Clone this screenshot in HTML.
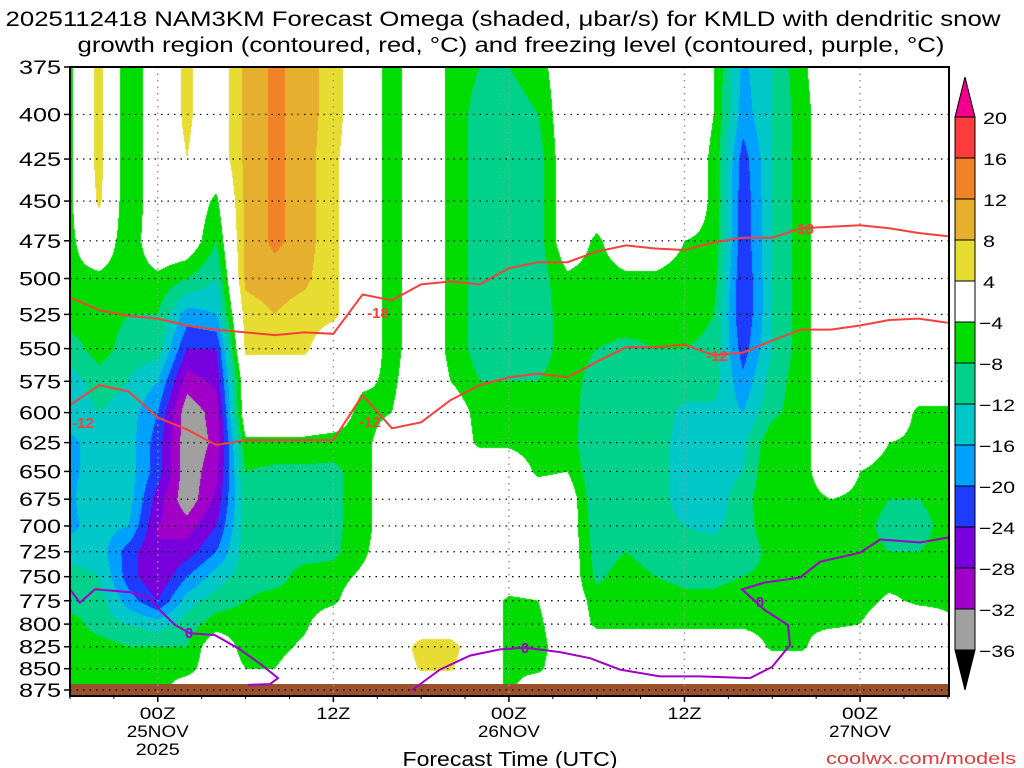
<!DOCTYPE html>
<html><head><meta charset="utf-8"><style>
html,body{margin:0;padding:0;background:#fff;width:1024px;height:768px;overflow:hidden}
#wrap{position:relative;width:1024px;height:768px}
canvas,svg{position:absolute;left:0;top:0}
text{font-family:"Liberation Sans",sans-serif}
</style></head><body>
<div id="wrap">
<canvas id="cv" width="1024" height="768"></canvas>
<svg id="sv" width="1024" height="768"></svg>
</div>
<script>
// ---- data ----
const hours = [0,2,4,6,8,10,12,14,16,18,20,22,24,26,28,30,32,34,36,38,40,42,44,46,48,50,52,54,56,58,60];
const pressures = [375,400,425,450,475,500,525,550,575,600,625,650,675,700,725,750,775,800,825,850,875];
const omegaByHour = [
[-5,-5,-5,-5,-5,-5,-6,-10,-14,-14,-17,-17,-17,-17,-14,-10,-10,-6,-6,-6,-6],
[6,6,6,5,0,-5,-6,-6,-10,-12,-14,-14,-12,-14,-14,-12,-10,-10,-6,-6,-6],
[-8,-8,-8,-8,-7,-6,-8,-10,-12,-14,-14,-14,-14,-16,-22,-22,-18,-12,-8,-6,-6],
[0,0,0,0,0,-5,-8,-10,-16,-20,-22,-22,-26,-28,-28,-28,-24,-14,-8,-6,-6],
[5,5,4,0,0,-8,-18,-24,-30,-35,-35,-35,-35,-30,-26,-20,-14,-10,-8,-6,0],
[0,0,0,-5,-8,-12,-16,-24,-27,-30,-31,-29,-27,-24,-20,-14,-10,-6,0,0,0],
[9,9,9,9,9,9,6,5,0,0,-5,-8,-10,-10,-10,-10,-8,-6,-6,-4,0],
[13,13,13,13,13,10,8,5,0,0,-5,-9,-10,-10,-10,-10,-6,-6,-6,-4,0],
[10,10,10,10,10,9,6,5,0,0,-5,-9,-10,-10,-10,-6,-6,-5,-3,0,0],
[6,6,5,5,5,5,5,0,0,0,-6,-9,-9,-9,-9,-6,-5,0,0,0,0],
[0,0,0,0,0,0,0,0,-3,-6,-6,-6,-6,-6,-5,-3,0,0,0,0,0],
[-6,-6,-6,-6,-6,-6,-6,-6,-5,-4,0,0,0,0,0,0,0,0,0,0,0],
[0,0,0,0,0,0,0,0,0,0,0,0,0,0,0,0,0,0,6,4.5,0],
[-5,-5,-5,-5,-5,-5,-5,-5,-4,0,0,0,0,0,0,0,0,0,6,4.5,0],
[-8,-10,-10,-10,-10,-10,-10,-10,-8,-6,-5,0,0,0,0,0,0,0,0,0,0],
[-8,-10,-10,-10,-10,-10,-10,-9,-8,-6,-5,0,0,0,0,0,-5,-5,-5,-5,-5],
[-6,-8,-10,-10,-10,-10,-10,-10,-8,-6,-6,-5,0,0,0,0,-4,-5,-6,-5,0],
[0,0,0,0,0,-5,-6,-6,-6,-6,-6,-4,0,0,0,0,0,0,0,0,0],
[0,0,0,0,-5,-6,-6,-8,-10,-11,-12,-12,-12,-11,-10,-9,-6,-5,0,0,0],
[0,0,0,0,0,-5,-6,-9,-10,-10,-10,-10,-10,-9,-8,-6,-6,-5,0,0,0],
[0,0,0,0,0,-5,-6,-8,-9,-10,-11,-11,-11,-11,-10,-8,-6,-5,0,0,0],
[0,0,0,0,-4,-6,-6,-8,-10,-13,-13,-13,-13,-12,-10,-9,-7,-5,0,0,0],
[-4,-4,-5,-5,-5,-6,-8,-9,-10,-13,-14,-14,-14,-13,-10,-9,-7,-5,0,0,0],
[-17,-18,-22,-23,-23,-24,-24,-22,-19,-16,-13,-12,-10,-10,-10,-8,-6,-5,0,0,0],
[-12,-12,-12,-12,-12,-12,-12,-12,-10,-9,-5,-4,-4,-5,-7,-7,-7,-6,-5,0,0],
[-5,-6,-6,-6,-6,-6,-6,-6,-6,-6,-6,-6,-6,-6,-6,-6,-6,-5,-5,0,0],
[0,0,0,0,0,0,0,0,0,0,0,0,-4,-6,-6,-6,-6,-5,0,0,0],
[0,0,0,0,0,0,0,0,0,0,0,-4,-5,-6,-6,-6,-6,-4,0,0,0],
[0,0,0,0,0,0,0,0,0,0,-4,-6,-8,-10,-8,-6,-3,0,0,0,0],
[0,0,0,0,0,0,0,0,0,-5,-5,-6,-8,-10,-8,-6,-5,0,0,0,0],
[0,0,0,0,0,0,0,0,0,-5,-5,-6,-6,-6,-6,-6,-5,-3,0,0,0]
];
const isoMinus18 = [513,522,526,528,533,536,538,540,538,539,511,515,504,502,504,493,489,489,482,478,480,481,476,473,473,467,466,465,467,470,472];
const isoMinus12 = [594,578,583,604,614,627,623,623,623,623,586,613,608,590,578,572,569,572,560,549,549,547,555,553,544,536,536,533,529,528,531];
const freeze1Hours = [0,0.68,1.71,4.1,5.47,6.15,7.18,8.2,9.91,11.62,13.12,14.22,13.67,12.17];
const freeze1Press = [763,777,763,766,772,785,801,810,812,828,846,861,868,869];
const freeze2Hours = [23.38,25.29,27.34,29.39,31.1,33.49,35.54,37.59,40.33,43.06,46.48,47.98,49.21,49.08,47.5,45.93,47.5,49.9,51.26,54,55.37,58.1,60.08];
const freeze2Press = [875,851,835,828,826,831,838,851,859,859,861,848,823,801,785,763,756,751,735,726,713,716,711];
const yTicks = [375,400,425,450,475,500,525,550,575,600,625,650,675,700,725,750,775,800,825,850,875];
const xTickHours = [6,18,30,42,54];
const xTickLabels = [["00Z","25NOV","2025"],["12Z"],["00Z","26NOV"],["12Z"],["00Z","27NOV"]];
const cbLevels = [20,16,12,8,4,-4,-8,-12,-16,-20,-24,-28,-32,-36];
const cbColors = ["#fa3c3c","#f08228","#e6af2d","#e6dc32","#ffffff","#00dc00","#00d28c","#00c8c8","#00a0ff","#1e3cff","#7800dc","#a000c8","#a0a0a0"];

// ---- axes ----
const X0=70, X1=949, Y0=67, Y1=690, PB=696;
const HMAX=60.08;
function xOf(h){return X0 + h*(X1-X0)/HMAX;}
function yOf(p){return Y0 + (Math.log(p)-Math.log(375))/(Math.log(875)-Math.log(375))*(Y1-Y0);}
function hOfX(x){return (x-X0)*HMAX/(X1-X0);}
function pOfY(y){return 375*Math.exp((y-Y0)/(Y1-Y0)*(Math.log(875)-Math.log(375)));}
function colorOf(v){
  if(v>=20) return "#f0008c";
  if(v<-36) return "#000000";
  for(let i=0;i<cbLevels.length-1;i++){ if(v<cbLevels[i] && v>=cbLevels[i+1]) return cbColors[i]; }
  return "#ffffff";
}
function hex(c){return [parseInt(c.substr(1,2),16),parseInt(c.substr(3,2),16),parseInt(c.substr(5,2),16)];}

// ---- shading ----
const cv=document.getElementById('cv'); const ctx=cv.getContext('2d');
ctx.fillStyle="#fff"; ctx.fillRect(0,0,1024,768);
const W=X1-X0, H=PB-Y0;
const img=ctx.createImageData(W,H);
const cache={};
for(let j=0;j<H;j++){
  const p=pOfY(Y0+j+0.5);
  let rf=(p-pressures[0])/(pressures[1]-pressures[0]);
  rf=Math.max(0,Math.min(pressures.length-1.0001,rf));
  const r0=Math.floor(rf), rt=rf-r0;
  for(let i=0;i<W;i++){
    const h=hOfX(X0+i+0.5);
    let cf=(h-hours[0])/(hours[1]-hours[0]);
    cf=Math.max(0,Math.min(hours.length-1.0001,cf));
    const c0=Math.floor(cf), ct=cf-c0;
    const a=omegaByHour[c0][r0], b=omegaByHour[c0+1][r0], c=omegaByHour[c0][r0+1], d=omegaByHour[c0+1][r0+1];
    const v=(a*(1-ct)+b*ct)*(1-rt)+(c*(1-ct)+d*ct)*rt;
    const col=colorOf(v); const rgb=cache[col]||(cache[col]=hex(col));
    const k=(j*W+i)*4; img.data[k]=rgb[0]; img.data[k+1]=rgb[1]; img.data[k+2]=rgb[2]; img.data[k+3]=255;
  }
}
ctx.putImageData(img,X0,Y0);

// ---- overlay ----
const NS="http://www.w3.org/2000/svg"; const sv=document.getElementById('sv');
function mk(tag,attrs,parent){const e=document.createElementNS(NS,tag);for(const k in attrs)e.setAttribute(k,attrs[k]);(parent||sv).appendChild(e);return e;}
function txt(s,attrs,parent){const e=mk('text',attrs,parent);e.textContent=s;return e;}

// terrain
const terr=mk('rect',{x:X0,y:684,width:X1-X0,height:PB-684,fill:"#98502d"});



// gridlines
const grid=mk('g',{});


yTicks.forEach(p=>{
  mk('line',{x1:X0,x2:X1,y1:yOf(p),y2:yOf(p),stroke:"#000","stroke-width":1.2,"stroke-dasharray":"1.5 5"},grid);
  mk('line',{x1:X0-6,x2:X0,y1:yOf(p),y2:yOf(p),stroke:"#000","stroke-width":1.5},grid);
});
xTickHours.forEach(h=>{
  mk('line',{x1:xOf(h),x2:xOf(h),y1:Y0,y2:PB,stroke:"#999","stroke-width":1.5,"stroke-dasharray":"1.5 5"},grid);
  mk('line',{x1:xOf(h),x2:xOf(h),y1:PB,y2:PB+6,stroke:"#000","stroke-width":1.5},grid);
});
for(let h=0;h<=60;h+=3){ mk('line',{x1:xOf(h),x2:xOf(h),y1:PB,y2:PB+3,stroke:"#000","stroke-width":1},grid); }

// isotherm lines
function pathFrom(hs,ps){return hs.map((h,i)=>(i?'L':'M')+xOf(h).toFixed(1)+','+yOf(ps[i]).toFixed(1)).join(' ');}
const l18=mk('path',{d:pathFrom(hours,isoMinus18),fill:"none",stroke:"#f5413c","stroke-width":2});


const l12=mk('path',{d:pathFrom(hours,isoMinus12),fill:"none",stroke:"#f5413c","stroke-width":2});


const f1=mk('path',{d:pathFrom(freeze1Hours,freeze1Press),fill:"none",stroke:"#a000c8","stroke-width":2});


const f2=mk('path',{d:pathFrom(freeze2Hours,freeze2Press),fill:"none",stroke:"#a000c8","stroke-width":2});



const lbls=[["-18",378,318,"#f5413c"],["-18",803,234,"#f5413c"],["-12",83,428,"#f5413c"],["-12",370,427,"#f5413c"],["-12",717,361,"#f5413c"],["0",189,638,"#a000c8"],["0",525,653,"#a000c8"],["0",760,607,"#a000c8"]];
lbls.forEach(l=>{
  const t=txt(l[0],{x:l[1],y:l[2],"font-size":15,"font-weight":"bold",fill:l[3],"text-anchor":"middle"});
  
  
});

// frame
const fr=mk('rect',{x:X0,y:Y0,width:X1-X0,height:PB-Y0,fill:"none",stroke:"#000","stroke-width":2});



// y tick labels
yTicks.forEach(p=>{
  const t=txt(String(p),{x:61,y:yOf(p)+7,"font-size":19,"text-anchor":"end",fill:"#000",textLength:42,lengthAdjust:"spacingAndGlyphs"});
  
  
});
// x tick labels
const xLabelWidths={"00Z":36,"12Z":34,"25NOV":62,"26NOV":62,"27NOV":62,"2025":44};
xTickHours.forEach((h,i)=>{
  xTickLabels[i].forEach((s,k)=>{
    const t=txt(s,{x:xOf(h),y:719+k*18,"font-size":17,"text-anchor":"middle",fill:"#000",textLength:xLabelWidths[s],lengthAdjust:"spacingAndGlyphs"});
    
    
  });
});
const xt=txt("Forecast Time (UTC)",{x:510,y:766,"font-size":20,"text-anchor":"middle",fill:"#000",textLength:215,lengthAdjust:"spacingAndGlyphs"});


const cr=txt("coolwx.com/models",{x:1016,y:764,"font-size":17,"text-anchor":"end",fill:"#e03c3c",textLength:190,lengthAdjust:"spacingAndGlyphs"});



// title
const t1=txt("2025112418 NAM3KM Forecast Omega (shaded, \u03bcbar/s) for KMLD with dendritic snow",{x:503,y:26,"font-size":21,"text-anchor":"middle",fill:"#000",textLength:995,lengthAdjust:"spacingAndGlyphs"});


const t2=txt("growth region (contoured, red, \u00b0C) and freezing level (contoured, purple, \u00b0C)",{x:511,y:52,"font-size":21,"text-anchor":"middle",fill:"#000",textLength:867,lengthAdjust:"spacingAndGlyphs"});



// colorbar
const cb=mk('g',{});


const CX=955, CW=20, CT=117, CS=41;
const cbTopArrow=mk('polygon',{points:`${CX},${CT} ${CX+CW},${CT} ${CX+CW/2},${CT-40}`,fill:"#f0008c",stroke:"#000","stroke-width":1},cb);


cbColors.forEach((c,i)=>{
  const r=mk('rect',{x:CX,y:CT+i*CS,width:CW,height:CS,fill:c,stroke:"#000","stroke-width":1},cb);
  
  
});
const CB=CT+cbColors.length*CS;
const cbBotArrow=mk('polygon',{points:`${CX},${CB} ${CX+CW},${CB} ${CX+CW/2},${CB+40}`,fill:"#000",stroke:"#000","stroke-width":1},cb);


cbLevels.forEach((v,i)=>{
  const s=v<0?"\u2212"+(-v):String(v);
  const w=s.length*12;
  const t=txt(s,{x:v<0?979:983,y:CT+i*CS+7,"font-size":17,fill:"#000",textLength:w,lengthAdjust:"spacingAndGlyphs"},cb);
  
  
});
</script>
</body></html>
